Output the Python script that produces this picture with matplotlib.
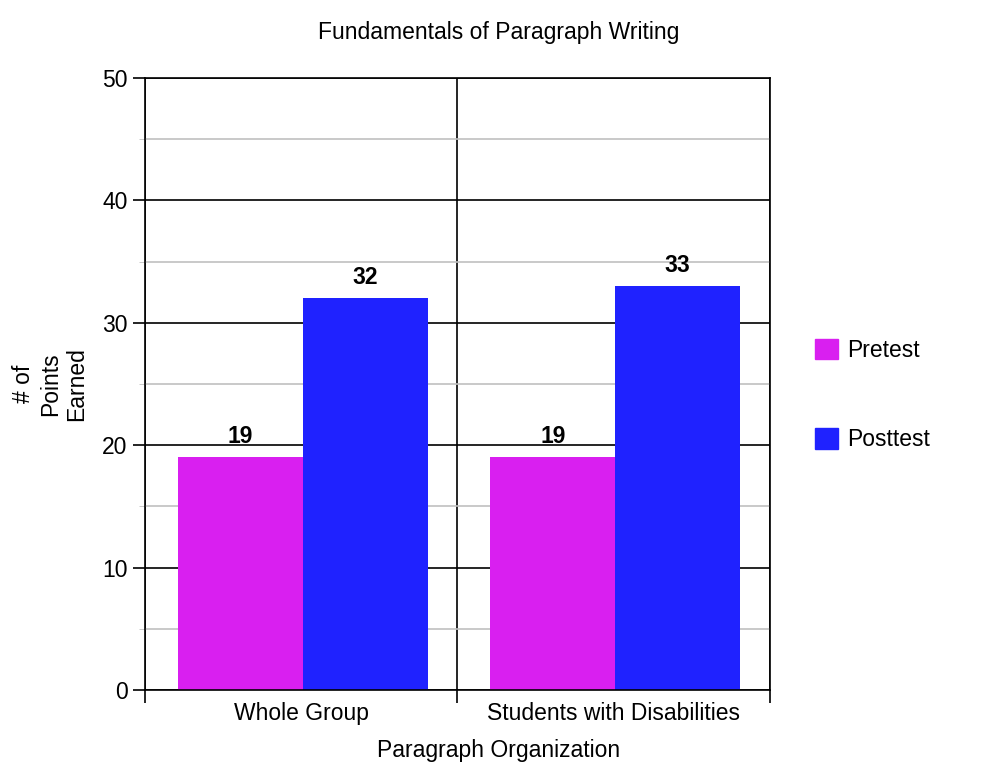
import matplotlib.pyplot as plt
from matplotlib.patches import Patch
from matplotlib.ticker import MultipleLocator

plt.rcParams['font.family'] = ['Liberation Sans', 'DejaVu Sans']

categories = ['Whole Group', 'Students with Disabilities']
pretest = [19, 19]
posttest = [32, 33]
series_names = ['Pretest', 'Posttest']
pre_color = '#d91ff0'
post_color = '#1f22ff'

fig = plt.figure(figsize=(9.98, 7.70), dpi=100)
ax = fig.add_axes([0.1453, 0.1039, 0.6262, 0.7948])

bar_w = 0.4
centers = [i + 0.505 for i in range(len(categories))]
pre_x = [c - bar_w / 2 for c in centers]
post_x = [c + bar_w / 2 for c in centers]
ax.bar(pre_x, pretest, width=bar_w, color=pre_color, zorder=3)
ax.bar(post_x, posttest, width=bar_w, color=post_color, zorder=3)

for x, v in zip(pre_x + post_x, pretest + posttest):
    ax.text(x, v + 0.75, str(v), ha='center', va='bottom', fontsize=16.5,
            fontweight='bold', zorder=4)

ax.set_xlim(0, len(categories))
ax.set_ylim(0, 50)
ax.yaxis.set_major_locator(MultipleLocator(10))
ax.yaxis.set_minor_locator(MultipleLocator(5))
ax.set_xticks(range(len(categories) + 1))
ax.set_xticklabels([])
ax.set_xticks([i + 0.5 for i in range(len(categories))], minor=True)
ax.set_xticklabels(categories, minor=True)
ax.tick_params(axis='x', which='minor', length=0, labelsize=16.5, pad=9)
ax.tick_params(axis='x', which='major', length=9, width=1.2, color='black')
ax.tick_params(axis='y', which='major', length=9, width=1.2, labelsize=16.5)
ax.tick_params(axis='y', which='minor', length=4, color='#c0c0c0')

ax.grid(True, axis='y', which='major', color='black', linewidth=1.2, zorder=1)
ax.grid(True, axis='y', which='minor', color='#c0c0c0', linewidth=1.2, zorder=1)
ax.grid(True, axis='x', which='major', color='black', linewidth=1.2, zorder=1)
for s in ax.spines.values():
    s.set_linewidth(1.2)
ax.spines['bottom'].set_zorder(5)

fig.text(0.5, 1 - 33 / 770, 'Fundamentals of Paragraph Writing', fontsize=16.5,
         ha='center', va='center')
fig.text(0.5, 1 - 751 / 770, 'Paragraph Organization', fontsize=16.5,
         ha='center', va='center')
ax.set_ylabel('# of\nPoints\nEarned', fontsize=16.5, labelpad=10, linespacing=1.2)

handles = [Patch(color=pre_color), Patch(color=post_color)]
fig.legend(handles, series_names, loc='upper left', bbox_to_anchor=(0.796, 0.587),
           frameon=False, fontsize=16.5, handlelength=1.0, handleheight=1.0,
           labelspacing=2.9, handletextpad=0.4)

fig.savefig('out.png', dpi=100)
